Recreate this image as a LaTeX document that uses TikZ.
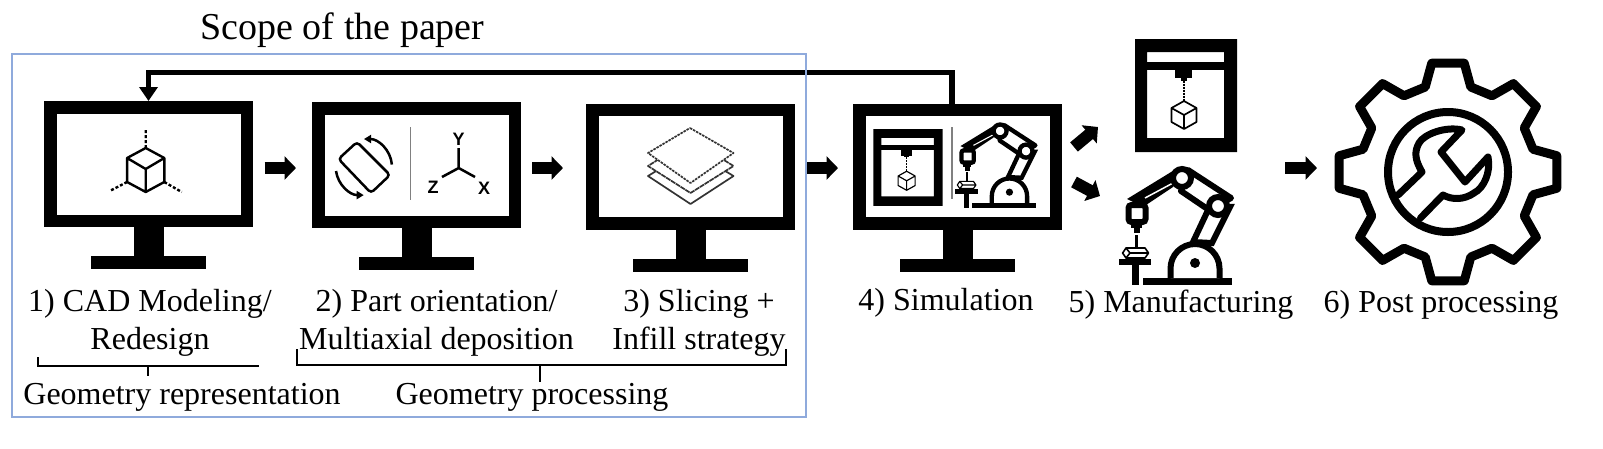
\documentclass[tikz,border=0pt]{standalone}
\usepackage{fontspec}
\usepackage{tikz}
\usetikzlibrary{arrows.meta,positioning}
\setmainfont{Liberation Serif}
\newfontfamily\axisfont{Liberation Sans}
\definecolor{scopeblue}{HTML}{8FAADC}

\tikzset{
  x=1pt,y=-1pt,
  monitorbox/.style={draw=black,fill=white,line width=12.5,inner sep=0,outer sep=6.25,minimum width=196.5,minimum height=113.5},
  lbl/.style={font=\fontsize{32}{38}\selectfont,align=center,anchor=base,inner sep=0},
  axislbl/.style={font=\axisfont\bfseries\fontsize{18}{18}\selectfont,inner sep=0},
  blockarrow/.style={-{Triangle[length=11.5pt,width=23pt]},line width=12},
  feedback/.style={-{Triangle[length=14pt,width=18pt]},line width=5.5},
  brace/.style={line width=1.7},
  sepline/.style={gray,line width=1.2},
  pics/standpic/.style={code={
    \fill (-15,0) rectangle (15,29);
    \fill (-57.5,29) rectangle (57.5,42);
  }},
  pics/printerpic/.style={code={
    \begin{scope}[scale=#1]
    \fill[even odd rule] (-51,-56.5) rectangle (51,56.5) (-39,-43.5) rectangle (38,42.5);
    \fill (-39,-33.5) rectangle (38,-25.5);
    \fill (-11,-25.5) rectangle (6,-17.5);
    \fill (-5.5,-17.5) rectangle (1,-15);
    \draw[line width=2*#1,dash pattern=on 2pt off 1pt] (-2,-15) -- (-2,5.5);
    \draw[line width=1.7*#1,line join=round] (-2,5.5) -- (10.5,12.5) -- (10.5,26.5) -- (-2,33.5) -- (-14.5,26.5) -- (-14.5,12.5) -- cycle
      (-14.5,12.5) -- (-2,19.5) -- (10.5,12.5) (-2,19.5) -- (-2,33.5);
    \end{scope}
  }},
  pics/robotpic/.style={code={
    \begin{scope}[scale=#1]
    \fill (0,-7) rectangle (89,0);
    \fill (-11,-20) rectangle (-4,0);
    \fill (-24,-26) rectangle (8,-20);
    \draw[line width=1.6*#1,line join=round] (-20.4,-32) -- (-17,-37) -- (2,-37) -- (5.5,-32) -- (2,-27) -- (-17,-27) -- cycle
      (-17,-37) -- (-13,-32) -- (-17,-27) (-13,-32) -- (5.5,-32);
    \draw[line width=3*#1] (-6.6,-50) -- (-6.6,-37);
    \fill (-9.5,-57) rectangle (-3,-52);
    \fill (-12,-63) rectangle (-1,-57);
    \fill (33,-116) -- (-16,-86) -- (0,-78) -- (30,-98) -- cycle;
    \draw[white,line width=1.5*#1] (2,-87) -- (30,-102);
    \draw[line width=6*#1,fill=white,rounded corners=3*#1] (-14.5,-63) -- (-14.5,-80) -- (2.5,-80) -- (2.5,-63) -- cycle;
    \draw[line width=6*#1,fill=white] (50,-43) -- (66,-77) -- (87,-78) -- (69,-42) -- cycle;
    \draw[line width=6*#1,fill=white,line join=round] (45,-115) -- (88,-87) -- (66,-75) -- (38,-94) -- cycle;
    \draw[line width=6*#1,fill=white] (39,-107) circle (9);
    \draw[line width=6*#1,fill=white] (75,-79) circle (9);
    \draw[line width=6*#1,fill=white] (27.5,-7) -- (27.5,-16.5) arc (180:360:24.5) -- (76.5,-7);
    \fill (52,-22) circle (5);
    \end{scope}
  }},
  pics/cubepic/.style={code={
    \draw[line width=2.4,line join=round] (0,-20) -- (18.6,-10) -- (18.6,14) -- (0,24) -- (-18.6,14) -- (-18.6,-10) -- cycle
      (-18.6,-10) -- (0,1) -- (18.6,-10) (0,1) -- (0,24);
    \draw[line width=2.4,dash pattern=on 3pt off 2pt] (0,-20) -- (0,-38) (-18.6,14) -- (-36,23) (18.6,14) -- (36,24);
  }},
  pics/gearpic/.style={code={
    \draw[line width=9,line join=round] (-15:88) \foreach \a in {0,45,...,315} { -- ({\a-15}:88) -- ({\a-8.5}:110) -- ({\a+8.5}:110) -- ({\a+15}:88) } -- cycle;
    \draw[line width=8] (0,0) circle (60);
    \draw[line width=7,line join=round,line cap=round] (-50,23) -- (-26,0) .. controls (-33,-12) and (-34,-20) .. (-29,-29) .. controls (-24,-38) and (-2,-46) .. (14,-42) -- (-7,-20) -- (17,10) -- (40,-15) .. controls (43,0) and (36,16) .. (26,21) .. controls (16,28) and (4,28) .. (-5,23) -- (-27.5,46);
  }}
}

\begin{document}
\begin{tikzpicture}
\useasboundingbox (0,0) rectangle (1603,448);

\node[lbl,font=\fontsize{38}{40}\selectfont] (scope) at (342.5,39) {Scope of the paper};

\node[monitorbox] (mon1) at (148.5,164) {};
\node[monitorbox] (mon2) at (416.5,165) {};
\node[monitorbox] (mon3) at (690.5,166.5) {};
\node[monitorbox] (mon4) at (957.5,166.5) {};
\foreach \m in {mon1,mon2,mon3,mon4} \pic at (\m.south) {standpic};

\coordinate (prn) at (1186,95.5);
\coordinate (rob) at (1143,285);
\coordinate (gear) at (1448,172);
\pic at (prn) {printerpic=1};
\pic at (rob) {robotpic=1};
\pic at (gear) {gearpic};

\pic at (145.7,168) {cubepic};

\draw[line width=2.5,rounded corners=3.5] (357,142) -- (390,175) -- (371,193) -- (338.5,159) -- cycle;
\draw[{Triangle[length=7pt,width=8pt]}-,line width=2.5] (364,139) arc (-90:-5:28);
\draw[-{Triangle[length=7pt,width=8pt]},line width=2.5] (336,171) arc (172:90:28);
\draw[sepline] (410.5,127) -- (410.5,200);
\coordinate (axo) at (458.7,168);
\node[axislbl] (axy) at (458.7,139) {Y};
\node[axislbl] (axz) at (433,187) {Z};
\node[axislbl] (axx) at (484,188) {X};
\draw[line width=2.5] (axo) -- (458.7,148) (axo) -- (442,177) (axo) -- (475,177);

\draw[line width=1.7,black!80,fill=white,line join=round] (690.5,150) -- (733.5,176) -- (690.5,204) -- (648,176) -- cycle;
\draw[line width=1.7,black!80,fill=white,dash pattern=on 5pt off 0.7pt,line join=round] (690.5,139) -- (733.5,166) -- (690.5,193) -- (648,166) -- cycle;
\draw[line width=1.7,black!80,fill=white,dash pattern=on 2.5pt off 1pt,line join=round] (690,128) -- (733.5,153) -- (690.5,183) -- (648,153) -- cycle;

\pic at (908,167.5) {printerpic=0.68};
\draw[sepline] (952,127) -- (952,199);
\pic at (972,208) {robotpic=0.72};

\draw[blockarrow,shorten <=11.5pt,shorten >=16pt] ([yshift=-4pt]mon1.east) -- ([yshift=-3pt]mon2.west);
\draw[blockarrow,shorten <=11pt,shorten >=23pt] ([yshift=-3pt]mon2.east) -- ([yshift=-1.5pt]mon3.west);
\draw[blockarrow,shorten <=12pt,shorten >=15pt] ([yshift=-1.5pt]mon3.east) -- ([yshift=-1.5pt]mon4.west);
\coordinate (upa) at (1074,147);
\coordinate (upb) at (1098,127);
\coordinate (dna) at (1074,182);
\coordinate (dnb) at (1100,196);
\coordinate (posta) at (1285,168);
\coordinate (postb) at (1317,168);
\draw[blockarrow] (upa) -- (upb);
\draw[blockarrow] (dna) -- (dnb);
\draw[blockarrow] (posta) -- (postb);
\draw[feedback] ([xshift=-5.5pt]mon4.north) -- ++(0,-31) -| (mon1.north);

\node[lbl] (cad) at (150,349) {1) CAD Modeling/\\Redesign};
\node[lbl] (part) at (436.5,349) {2) Part orientation/\\Multiaxial deposition};
\node[lbl] (slice) at (699,349) {3) Slicing +\\Infill strategy};
\node[lbl] (sim) at (946,310) {4) Simulation};
\node[lbl] (manu) at (1181,312) {5) Manufacturing};
\node[lbl] (postp) at (1441,312) {6) Post processing};
\node[lbl] (georep) at (182,404) {Geometry representation};
\node[lbl] (geoproc) at (532,404) {Geometry processing};

\draw[brace] (38,357) -- (38,366) -- (259,366) (148,366) -- (148,376);
\draw[brace] (297,349) -- (297,365) -- (786,365) -- (786,349) (540,365) -- (540,382);

\draw[scopeblue,line width=2] (12,54) rectangle (805.5,417);

\end{tikzpicture}
\end{document}
